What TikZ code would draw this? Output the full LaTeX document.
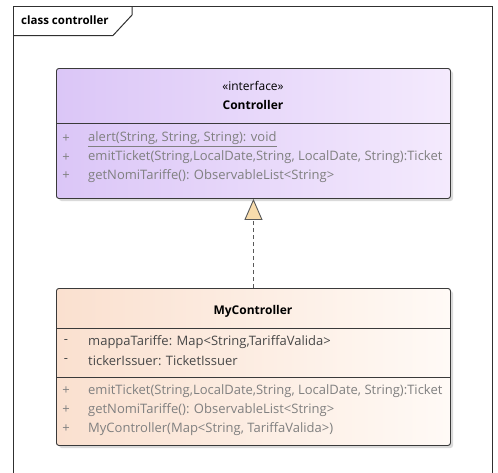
\documentclass[tikz,border=0pt]{standalone}
\usepackage{fontspec}
\setmainfont{Open Sans}
\usetikzlibrary{arrows.meta}
\definecolor{framegray}{RGB}{48,48,48}
\definecolor{boxline}{RGB}{58,58,58}
\definecolor{ifleft}{RGB}{219,198,247}
\definecolor{ifright}{RGB}{244,234,253}
\definecolor{clleft}{RGB}{250,224,207}
\definecolor{clright}{RGB}{255,250,246}
\definecolor{trifill}{RGB}{248,220,172}
\definecolor{opgray}{RGB}{128,128,128}
\definecolor{attrgray}{RGB}{72,72,72}
\definecolor{shadowgray}{RGB}{218,218,218}
\begin{document}
\begin{tikzpicture}[x=1pt,y=-1pt,
  classbox/.style={draw=boxline, line width=0.9pt, rounded corners=2.5pt,
    anchor=north west, inner sep=0pt, minimum width=394pt},
  ifacebox/.style={classbox, left color=ifleft, right color=ifright},
  implbox/.style={classbox, left color=clleft, right color=clright},
  boxshadow/.style={fill=shadowgray, rounded corners=2.5pt},
  sep/.style={draw=boxline, line width=0.8pt},
  member/.style={anchor=west, inner sep=0pt, font=\fontsize{13}{15}\selectfont},
  opmember/.style={member, text=opgray},
  attrmember/.style={member, text=attrgray},
  vismark/.style={anchor=center, inner sep=0pt, font=\fontsize{13}{15}\selectfont},
  title/.style={anchor=center, inner sep=0pt, font=\bfseries\fontsize{12}{14}\selectfont},
  realize/.style={draw=framegray!80, line width=1pt, dash pattern=on 4pt off 3pt,
    -{Triangle[length=21pt, width=18pt, fill=trifill, line width=0.9pt]}}
]
\useasboundingbox (0,0) rectangle (498,472);

% package frame with its name tab
\draw[framegray, line width=1pt] (13.5,480) -- (13.5,6.5) -- (492.5,6.5) -- (492.5,480);
\draw[framegray, line width=1pt] (13.5,35.5) -- (113,35.5) -- (132,15) -- (132,6.5);
\node[anchor=west, inner sep=0pt, font=\bfseries\fontsize{11.5}{13}\selectfont] (pkg) at (21,20) {class controller};

% interface Controller
\fill[boxshadow] (59,71) rectangle (453,201);
\node[ifacebox, minimum height=130pt] (ctrl) at (56,68) {};
\draw[sep] (56,123) -- (450,123);
\node[vismark, text=black, font=\fontsize{12}{14}\selectfont] (stereo) at (253,86) {«interface»};
\node[title] (ctrlname) at (253,105) {Controller};
\node[vismark, text=opgray] (cv1) at (66,139) {+};
\node[vismark, text=opgray] (cv2) at (66,157.5) {+};
\node[vismark, text=opgray] (cv3) at (66,176) {+};
\node[opmember] (cop1) at (88,139) {\underline{alert(String, String, String): void}};
\node[opmember] (cop2) at (88,157.5) {emitTicket(String,LocalDate,String, LocalDate, String):Ticket};
\node[opmember] (cop3) at (88,176) {getNomiTariffe(): ObservableList<String>};

% class MyController
\fill[boxshadow] (59,291) rectangle (453,448);
\node[implbox, minimum height=157pt] (myctrl) at (56,288) {};
\draw[sep] (56,328) -- (450,328);
\draw[sep] (56,377) -- (450,377);
\node[title] (myname) at (253,311) {MyController};
\node[vismark, text=attrgray] (ma1) at (66,342) {-};
\node[vismark, text=attrgray] (ma2) at (66,361) {-};
\node[attrmember] (attr1) at (88,342) {mappaTariffe: Map<String,TariffaValida>};
\node[attrmember] (attr2) at (88,361) {tickerIssuer: TicketIssuer};
\node[vismark, text=opgray] (mv1) at (66,391) {+};
\node[vismark, text=opgray] (mv2) at (66,410) {+};
\node[vismark, text=opgray] (mv3) at (66,429) {+};
\node[opmember] (mop1) at (88,391) {emitTicket(String,LocalDate,String, LocalDate, String):Ticket};
\node[opmember] (mop2) at (88,410) {getNomiTariffe(): ObservableList<String>};
\node[opmember] (mop3) at (88,429) {MyController(Map<String, TariffaValida>)};

% realization
\draw[realize] (myctrl.north) -- (ctrl.south);
\end{tikzpicture}
\end{document}
